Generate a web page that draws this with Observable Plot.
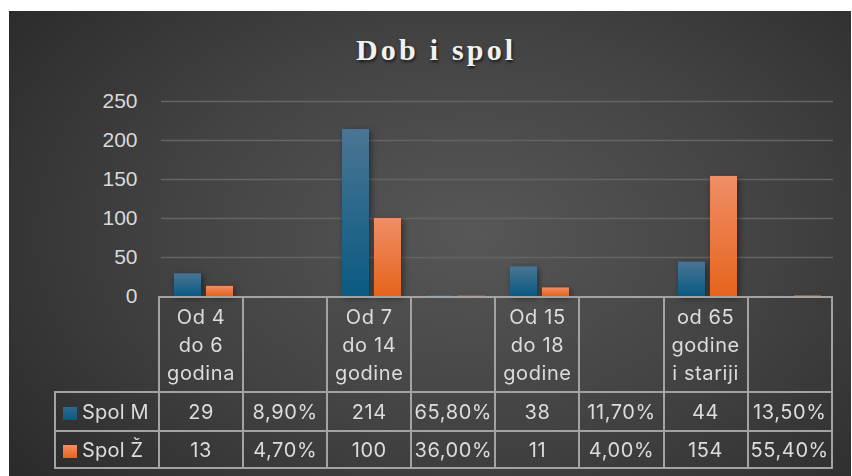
<!DOCTYPE html>
<html><head><meta charset="utf-8">
<script src="https://cdn.jsdelivr.net/npm/d3@7"></script>
<script src="https://cdn.jsdelivr.net/npm/@observablehq/plot@0.6"></script>
<style>
html,body{margin:0;padding:0;background:#fff;}
#chart{position:absolute;left:9px;top:11px;width:842px;height:465px;overflow:hidden;
  background: radial-gradient(ellipse 70% 85% at 55% 48%, #575757 0%, #434343 50%, #2a2a2a 100%);}
#title{position:absolute;left:347px;top:24px;font:bold 30px/30px "Liberation Serif","Times New Roman",serif;
  letter-spacing:3.2px;color:#f2f2f2;white-space:nowrap;text-shadow:1px 2px 3px rgba(0,0,0,0.65);}
#plot{position:absolute;left:0;top:75px;}
#tbl{position:absolute;left:45px;top:285px;border-collapse:collapse;table-layout:fixed;
  font-family:Inter,"Open Sans",sans-serif;font-size:20px;letter-spacing:0.6px;color:#dcdcdc;}
#tbl td{border:2px solid #a3a3a3;padding:0;text-align:center;white-space:nowrap;overflow:hidden;}
#tbl tr.hdr td{height:93px;line-height:28px;vertical-align:middle;}
#tbl tr.hdr td.corner{border:none;}
#tbl tr.r0 td{height:37px;line-height:20px;vertical-align:middle;}
#tbl tr.r1 td{height:35px;line-height:20px;vertical-align:middle;}
#tbl td.leg{text-align:left;padding-left:7px;letter-spacing:0.2px;}
#tbl .sw{display:inline-block;width:14px;height:13px;margin-right:5px;vertical-align:-1px;}
</style></head><body>
<div id="chart"><div id="title">Dob i spol</div><div id="plot"></div><table id="tbl"></table></div>
<script>
const categories = ["Od 4\ndo 6\ngodina", "", "Od 7\ndo 14\ngodine", "", "Od 15\ndo 18\ngodine", "", "od 65\ngodine\ni stariji", ""];
const series = ["Spol M", "Spol Ž"];
const spolM = [29, 0.089, 214, 0.658, 38, 0.117, 44, 0.135];
const spolZ = [13, 0.047, 100, 0.36, 11, 0.04, 154, 0.554];
const valueFormats = ["n", "%", "n", "%", "n", "%", "n", "%"];
const yTicks = [0, 50, 100, 150, 200, 250];

const rows = [];
categories.forEach((c, i) => {
  rows.push({slot: i, series: series[0], value: spolM[i]});
  rows.push({slot: i, series: series[1], value: spolZ[i]});
});

const svg = Plot.plot({
  width: 842, height: 211,
  marginTop: 15, marginBottom: 1, marginLeft: 151, marginRight: 18,
  style: {background: "transparent", color: "#d9d9d9", fontFamily: "'Liberation Sans', Arial, sans-serif", fontSize: "21px", overflow: "visible"},
  facet: {data: rows, x: "slot"},
  fx: {domain: d3.range(categories.length), padding: 0, axis: null},
  x: {domain: series, paddingInner: 5 / 32, paddingOuter: 0.36, axis: null},
  y: {domain: [0, 250], ticks: yTicks.length - 1, tickSize: 0, tickPadding: 24, label: null, tickFormat: d => String(d)},
  color: {domain: series, range: ["url(#gM)", "url(#gZ)"]},
  marks: [
    Plot.ruleY(yTicks.slice(1), {stroke: "#646464", strokeWidth: 1.5}),
    Plot.barY(rows, {x: "series", y: "value", fill: "series"})
  ]
});

const NS = "http://www.w3.org/2000/svg";
const defs = document.createElementNS(NS, "defs");
function grad(id, top, bottom) {
  const g = document.createElementNS(NS, "linearGradient");
  g.setAttribute("id", id); g.setAttribute("x1", "0"); g.setAttribute("y1", "0"); g.setAttribute("x2", "0"); g.setAttribute("y2", "1");
  [[0, top], [1, bottom]].forEach(([o, c]) => {
    const s = document.createElementNS(NS, "stop");
    s.setAttribute("offset", o); s.setAttribute("stop-color", c);
    g.appendChild(s);
  });
  defs.appendChild(g);
}
grad("gM", "#4a7594", "#0a5a82");
grad("gZ", "#f08e66", "#e5641c");
svg.insertBefore(defs, svg.firstChild);
svg.querySelectorAll("g[aria-label='bar']").forEach(g => g.style.filter = "drop-shadow(2px 2px 3px rgba(0,0,0,0.45))");
document.getElementById("plot").appendChild(svg);

function fmt(v, f) {
  return f === "%" ? (v * 100).toFixed(2).replace(".", ",") + "%" : String(v);
}
const swatches = ["linear-gradient(#2f6a8f,#0a5a82)", "linear-gradient(#f08e66,#e5641c)"];
let html = "<colgroup><col style='width:104px'>" + categories.map(() => "<col style='width:84.1px'>").join("") + "</colgroup>";
html += "<tr class='hdr'><td class='corner'></td>" + categories.map(c => `<td>${c.replace(/\n/g, "<br>")}</td>`).join("") + "</tr>";
[spolM, spolZ].forEach((vals, k) => {
  html += `<tr class='r${k}'><td class='leg'><span class='sw' style='background:${swatches[k]}'></span>${series[k]}</td>` +
    vals.map((v, i) => `<td>${fmt(v, valueFormats[i])}</td>`).join("") + "</tr>";
});
document.getElementById("tbl").innerHTML = html;
</script>
</body></html>
